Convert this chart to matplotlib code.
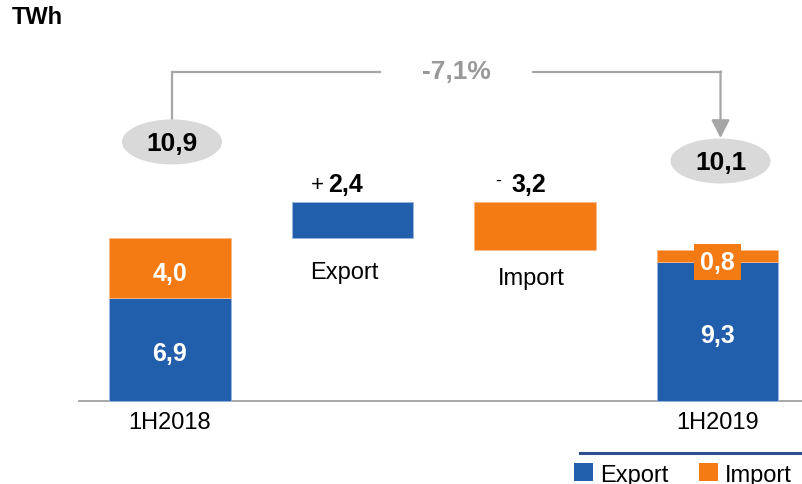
import matplotlib
matplotlib.use('Agg')
import matplotlib.pyplot as plt
from matplotlib.patches import Ellipse, Patch

# ---- data ----
categories = ['1H2018', 'Export', 'Import', '1H2019']
export_vals = [6.9, 9.3]          # 1H2018, 1H2019
import_vals = [4.0, 0.8]          # 1H2018, 1H2019
totals = [10.9, 10.1]             # 1H2018, 1H2019
deltas = [2.4, -3.2]              # Export change, Import change
delta_signs = ['+', '-']
change_label = '-7,1%'
unit_label = 'TWh'
legend_labels = ['Export', 'Import']

BLUE = '#215FAC'
ORANGE = '#F47A14'
GRAY_LINE = '#A6A6A6'
GRAY_TEXT = '#999999'
ELL = '#D9D9D9'
FONT = ['Liberation Sans', 'DejaVu Sans']
plt.rcParams['font.family'] = FONT

def fmt(v):
    return f"{abs(v):.1f}".replace('.', ',')

fig = plt.figure(figsize=(8.02, 4.85), dpi=100)
ax = fig.add_axes([0, 0, 1, 1])
ax.set_xlim(-0.9315, 3.463)
ax.set_ylim(-5.5, 26.83)
ax.axis('off')

PXX = 182.5   # px per x unit
PXY = 15.0    # px per y unit
W = 0.668

x_pos = list(range(len(categories)))
xs_tot = [x_pos[0], x_pos[3]]

# stacked total bars
ax.bar(xs_tot, export_vals, width=W, color=BLUE, edgecolor='#9DB7DD', linewidth=0.6, zorder=3)
ax.bar(xs_tot, import_vals, bottom=export_vals, width=W, color=ORANGE,
       edgecolor='#F9B98A', linewidth=0.6, zorder=3)

# floating delta bars
level = totals[0]
bottoms = []
heights = []
for d in deltas:
    new = level + d
    bottoms.append(min(level, new))
    heights.append(abs(d))
    level = new
ax.bar(x_pos[1:3], heights, bottom=bottoms, width=W, color=[BLUE, ORANGE],
       edgecolor=['#9DB7DD', '#F9B98A'], linewidth=0.6, zorder=3)

# baseline
ax.plot([-0.5, 3.463], [0, 0], color='#A0A0A0', lw=1.3, zorder=2)

# values inside bars
for xi, e in zip(xs_tot, export_vals):
    ax.text(xi, e / 2 - 0.25, fmt(e), ha='center', va='center', color='white',
            fontsize=18, fontweight='bold', zorder=5)
ax.text(xs_tot[0], export_vals[0] + import_vals[0] / 2 - 0.35, fmt(import_vals[0]),
        ha='center', va='center', color='white', fontsize=18, fontweight='bold', zorder=5)
# small import segment label with orange box
ax.text(xs_tot[1], export_vals[1] + import_vals[1] / 2 - 0.4, fmt(import_vals[1]),
        ha='center', va='center', color='white', fontsize=18, fontweight='bold', zorder=5,
        bbox=dict(boxstyle='square,pad=0.25', fc=ORANGE, ec='none'))

# delta labels
for xi, b, h, d, s in zip(x_pos[1:3], bottoms, heights, deltas, delta_signs):
    yl = b + h + 1.2
    ax.text(xi - 24 / PXX, yl, fmt(d), ha='left', va='center', fontsize=18,
            fontweight='bold', color='black', zorder=5)
    if s == '+':
        ax.text(xi - 29 / PXX, yl - 0.05, s, ha='right', va='center', fontsize=16, color='black')
    else:
        ax.text(xi - 34 / PXX, yl + 0.25, s, ha='right', va='center', fontsize=13, color='black')

# category names under delta bars
name_offsets = [(-8, 34), (-4, 28)]
for xi, b, (dx, dy) in zip(x_pos[1:3], bottoms, name_offsets):
    ax.text(xi + dx / PXX, b - dy / PXY, categories[xi], ha='center', va='center',
            fontsize=17, color='black')

# x labels under totals
for xi in xs_tot:
    ax.text(xi, -1.4, categories[xi], ha='center', va='center', fontsize=17, color='black')

# ellipses with totals
ell_y = [totals[0] + 6.4, totals[1] + 5.93]
ell_x = [xs_tot[0] + 2 / PXX, xs_tot[1] + 3 / PXX]
for ex, ey, t in zip(ell_x, ell_y, totals):
    ax.add_patch(Ellipse((ex, ey), 100 / PXX, 45 / PXY, fc=ELL, ec='none', zorder=4))
    ax.text(ex, ey - 0.05, fmt(t), ha='center', va='center', fontsize=19,
            fontweight='bold', color='black', zorder=5)

# bracket with percentage change
top_y = 21.95
ax.plot([ell_x[0], ell_x[0], 1.15], [ell_y[0] + 22 / PXY, top_y, top_y],
        color=GRAY_LINE, lw=1.6, solid_joinstyle='miter', zorder=3)
ax.plot([1.99, ell_x[1]], [top_y, top_y], color=GRAY_LINE, lw=1.6, zorder=3)
ax.annotate('', xy=(ell_x[1], ell_y[1] + 23 / PXY), xytext=(ell_x[1], top_y + 0.05),
            arrowprops=dict(arrowstyle='-|>,head_width=0.28,head_length=0.55',
                            color=GRAY_LINE, lw=1.6, mutation_scale=20,
                            shrinkA=0, shrinkB=0), zorder=3)
ax.text(1.567, top_y + 0.05, change_label, ha='center', va='center', fontsize=19,
        fontweight='bold', color=GRAY_TEXT)

# unit label
fig.text(12 / 802, 1 - 18 / 485, unit_label, ha='left', va='center', fontsize=17,
         fontweight='bold', color='black')

# legend
fig.add_artist(plt.Line2D([580 / 802, 1.0], [1 - 454 / 485] * 2, color='#2F4E8F', lw=2.2,
                          transform=fig.transFigure))
handles = [Patch(fc=BLUE, ec='none'), Patch(fc=ORANGE, ec='none')]
fig.legend(handles, legend_labels, loc='lower right', bbox_to_anchor=(1.014, -0.047),
           ncol=2, frameon=False, fontsize=17, handlelength=0.8, handleheight=0.8,
           handletextpad=0.3, columnspacing=1.3)

fig.savefig('out.png', dpi=100)
